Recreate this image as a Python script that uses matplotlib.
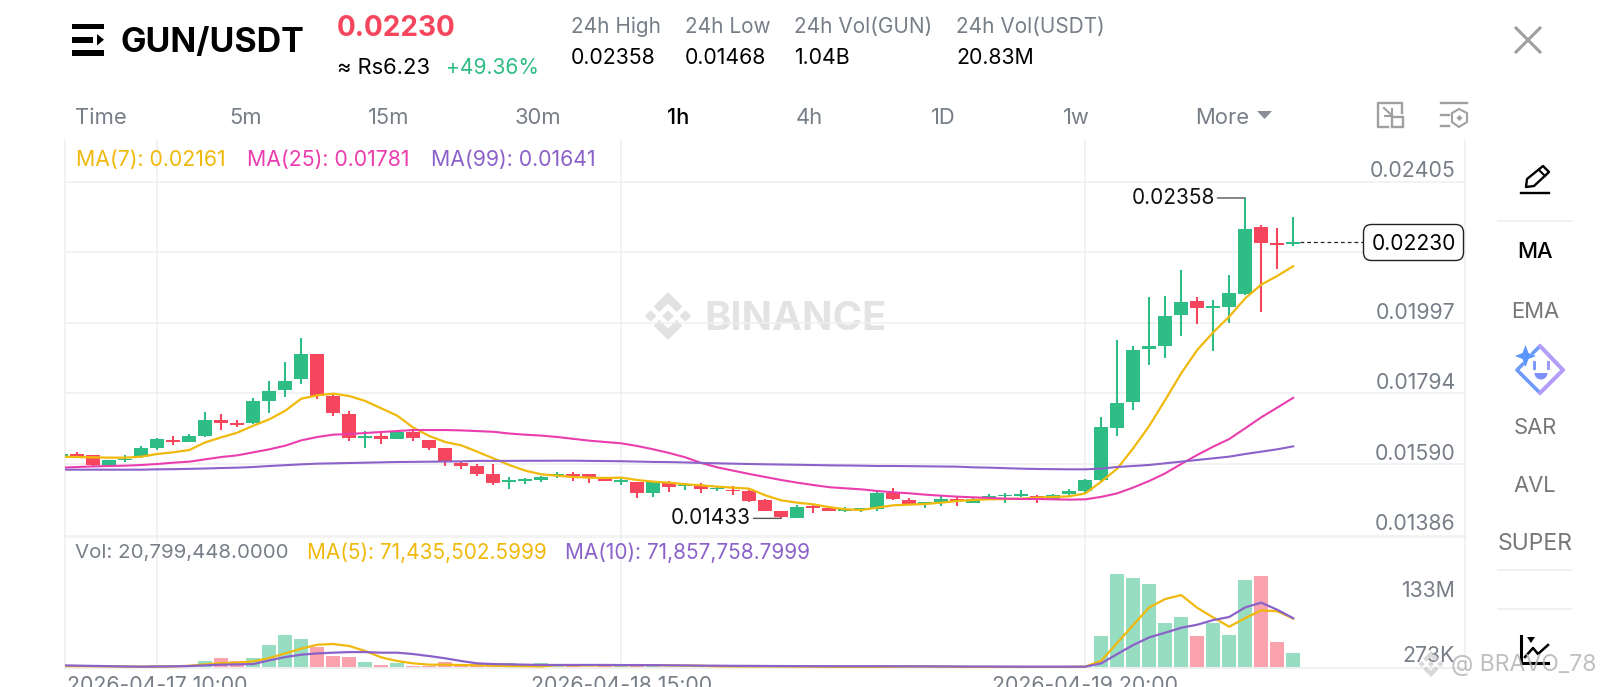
import numpy as np
import matplotlib
matplotlib.use("Agg")
import matplotlib.pyplot as plt
from matplotlib.patches import Polygon, FancyBboxPatch, Rectangle, Wedge
from matplotlib.transforms import blended_transform_factory

UNIT = 1e-5
opens = [1611.2,1619.8,1616.9,1587.1,1600.6,1609.2,1635.2,1658.3,1654.5,1669.9,1717.0,1708.3,1707.4,1771.9,1803.6,1834.4,1908.5,1785.3,1735.3,1665.0,1670.8,1662.2,1682.4,1659.3,1635.2,1592.9,1585.2,1560.2,1537.1,1540.0,1544.8,1555.4,1561.1,1561.1,1546.7,1539.0,1537.1,1505.3,1538.0,1525.5,1530.3,1517.8,1515.0,1513.0,1486.1,1455.3,1435.1,1468.8,1462.0,1455.3,1457.2,1461.1,1506.3,1486.1,1474.6,1476.5,1490.0,1478.4,1490.9,1497.7,1497.7,1496.7,1490.0,1503.4,1511.1,1543.8,1693.0,1768.0,1922.0,1931.6,2020.2,2059.6,2040.4,2043.3,2081.8,2274.2,2227.1,2225.1]
highs = [1618.9,1624.6,1616.9,1602.5,1615.0,1641.0,1664.1,1670.8,1676.6,1740.1,1735.3,1717.0,1779.6,1828.6,1884.4,1952.8,1908.5,1788.2,1743.0,1684.3,1680.4,1685.2,1688.1,1659.3,1635.2,1595.8,1591.0,1590.0,1551.5,1549.6,1556.3,1566.0,1566.0,1561.1,1552.5,1550.6,1537.1,1541.9,1540.0,1534.2,1534.2,1526.5,1526.5,1515.0,1489.0,1455.3,1471.6,1471.6,1466.8,1464.9,1464.0,1511.1,1519.8,1490.9,1480.3,1497.7,1495.7,1494.8,1502.5,1505.4,1514.0,1500.5,1503.4,1516.9,1545.8,1725.7,1947.0,1929.7,2071.2,2075.0,2149.1,2073.1,2062.5,2134.7,2358.0,2280.0,2270.4,2303.0]
lows = [1611.2,1612.1,1582.3,1586.1,1595.8,1608.3,1631.4,1645.8,1653.5,1667.0,1688.1,1696.8,1705.5,1737.2,1783.4,1821.9,1778.6,1727.6,1657.3,1636.2,1648.7,1661.2,1655.4,1630.4,1585.2,1576.5,1556.3,1529.4,1516.9,1531.3,1537.1,1549.6,1540.0,1536.1,1540.0,1530.3,1492.8,1495.7,1508.2,1515.9,1505.3,1511.1,1500.5,1481.3,1453.4,1433.0,1434.0,1449.5,1454.3,1452.4,1452.4,1455.3,1486.1,1472.6,1464.0,1468.8,1469.8,1478.4,1489.0,1478.4,1494.8,1476.5,1489.0,1493.8,1502.5,1541.0,1669.9,1746.9,1876.8,1895.1,1958.6,1994.2,1916.2,1996.1,2077.0,2027.9,2153.9,2219.0]
closes = [1618.9,1614.0,1588.1,1600.6,1605.4,1635.2,1661.2,1653.5,1669.9,1716.0,1709.3,1702.6,1770.9,1800.7,1830.6,1906.6,1786.3,1736.3,1664.1,1670.8,1663.1,1681.4,1664.1,1635.2,1598.6,1584.2,1562.1,1536.1,1542.9,1545.7,1552.5,1561.1,1556.3,1551.5,1541.0,1542.9,1505.3,1538.0,1524.6,1530.3,1516.9,1521.7,1511.1,1484.2,1455.3,1436.0,1465.9,1463.0,1455.3,1460.1,1464.0,1506.3,1488.0,1474.6,1479.4,1490.0,1483.2,1490.0,1496.7,1501.5,1502.5,1490.0,1500.5,1513.0,1543.9,1695.9,1765.2,1919.1,1929.7,2018.2,2058.7,2041.3,2046.2,2083.7,2269.4,2227.1,2221.3,2230.0]
ma7 = [1611.2,1610.2,1609.2,1608.3,1608.3,1611.2,1618.9,1623.7,1630.4,1652.5,1667.0,1680.4,1700.6,1718.9,1743.9,1778.6,1788.2,1793.0,1786.3,1771.9,1750.7,1729.5,1694.9,1670.8,1653.5,1643.9,1625.6,1606.4,1587.1,1570.8,1560.2,1556.3,1552.5,1550.6,1549.6,1550.6,1543.8,1539.0,1536.1,1531.3,1528.4,1524.6,1521.7,1518.8,1499.6,1485.1,1478.4,1473.6,1465.5,1459.2,1457.2,1464.0,1470.7,1472.6,1474.6,1478.4,1483.2,1486.1,1488.0,1489.0,1490.0,1492.8,1494.8,1496.7,1505.0,1539.0,1576.6,1635.3,1699.7,1774.8,1851.8,1919.1,1970.1,2015.4,2068.3,2107.7,2132.8,2161.0]
ma25 = [1579.4,1581.3,1583.2,1584.2,1585.2,1587.1,1590.0,1593.8,1596.7,1603.5,1610.2,1615.0,1623.7,1632.3,1642.9,1658.3,1667.9,1674.7,1676.6,1679.5,1682.4,1685.2,1688.1,1688.1,1688.1,1687.0,1685.0,1683.0,1678.0,1674.6,1672.0,1668.0,1662.6,1657.4,1653.5,1649.7,1642.0,1632.4,1621.8,1609.3,1593.0,1580.4,1570.8,1561.2,1552.5,1543.8,1536.1,1529.4,1523.0,1519.8,1516.9,1512.1,1508.2,1505.4,1501.5,1498.6,1495.7,1493.8,1491.9,1490.0,1489.0,1489.0,1488.0,1487.1,1488.0,1495.0,1505.3,1522.0,1541.0,1563.0,1590.0,1616.0,1640.1,1662.0,1693.0,1724.7,1752.7,1781.0]
ma99 = [1573.6,1573.6,1573.6,1573.6,1573.6,1573.6,1574.6,1575.0,1576.0,1577.0,1578.4,1579.4,1581.3,1584.2,1586.6,1589.0,1591.0,1591.9,1592.9,1593.8,1594.8,1595.8,1596.2,1596.7,1597.2,1597.7,1599.0,1599.0,1599.0,1599.3,1599.3,1599.5,1599.5,1599.0,1598.5,1598.0,1597.0,1596.0,1595.5,1594.5,1593.0,1592.0,1591.0,1590.0,1589.2,1588.5,1587.8,1587.0,1586.2,1585.7,1585.2,1584.3,1584.3,1583.8,1583.3,1582.8,1582.3,1580.4,1579.5,1578.0,1576.6,1575.6,1575.1,1574.6,1574.6,1576.6,1581.4,1584.2,1587.2,1592.0,1596.8,1601.6,1606.4,1611.2,1618.9,1625.6,1632.4,1641.0]
volumes_m = [2,2,2.5,1.5,2,2,3.9,2,2.9,9.7,14,9.7,13.6,33.4,47,42.1,30,16.5,15,8.2,3.9,6.8,2.5,2,8.7,2,4.8,4.8,6.3,1.5,6.8,3.9,1.9,1,3.9,3.4,4.4,3.4,1.5,1,1,0.8,1.9,1,1.9,1.5,1,0.8,0.8,0.8,1,3,1.9,1.2,0.8,1,1,0.8,0.8,0.8,0.8,1,0.8,1,3,45.5,136,129.7,121,64.9,73.6,45.5,65.3,47.4,126.8,133.6,36.8,20.8]
vol_ma5 = [2.4,2.3,2.1,1.9,1.7,1.5,1.6,1.8,2.9,4.8,6.8,7.3,9.2,14,20.8,27.6,33.4,34.4,31.5,24.2,15,9.7,6.3,4.4,4.4,3.9,3.4,2.9,2.4,2.2,1.9,3.6,3.4,3.2,3.6,3.6,3.8,3.8,3.2,3,2.8,2,1.8,1.8,1.8,1.8,1.6,1.5,1.3,1.0,0.9,1.2,1.5,1.7,1.7,1.5,1.2,1.0,1.0,1.0,1.0,1.0,1.0,1.0,1.5,10,36,62,87.6,99.7,105.5,87,73,59.5,72,83.3,82,71.4]
vol_ma10 = [3.4,3.0,2.6,2.2,1.8,1.5,1.7,2.0,2.4,3.4,4.4,4.8,5.3,10.6,15.5,18.9,20.8,21.8,22.7,22.7,21.8,21.8,19.8,16.9,13.6,9.7,6.3,5.3,4.8,4.4,3.9,4,4,4,4,3.8,3.8,3.7,3.5,3.3,3,2.9,2.7,2.6,2.5,2.4,2.3,2.2,2.2,2.2,2.2,2.2,2.1,2,2,1.9,1.8,1.7,1.7,1.6,1.5,1.5,1.5,1.5,1.5,6.3,19.8,32.9,44,50.8,58,62.4,69.2,73.6,87.6,94.4,84.2,71.9]
price_ticks = [0.02405,0.02202,0.01997,0.01794,0.01590]
price_tick_labels = ["0.02405","","0.01997","0.01794","0.01590"]
date_positions = [6,35,64]
date_labels = ["2026-04-17 10:00","2026-04-18 15:00","2026-04-19 20:00"]
periods = ["Time","5m","15m","30m","1h","4h","1D","1w"]
period_x = [75,246,389,538,678,809,943,1076]

GREEN,RED = "#2EBD85","#F6465D"
GOLD,PINK,PURPLE = "#F0B90B","#EA3DAE","#8B62C9"
GREY,LINE = "#777E87","#EFEFEF"
FONT = "Inter"
plt.rcParams['font.family'] = [FONT,"Lato","DejaVu Sans"]

W,H = 1600,687
fig = plt.figure(figsize=(16,6.87),dpi=100,facecolor="white")
def axpx(x0,y0,x1,y1,z):
    a = fig.add_axes([x0/W,1-y1/H,(x1-x0)/W,(y1-y0)/H],zorder=z)
    a.patch.set_alpha(0)
    return a

bg = axpx(0,0,W,H,0); bg.set_xlim(0,W); bg.set_ylim(H,0); bg.axis("off")
ui = axpx(0,0,W,H,3); ui.set_xlim(0,W); ui.set_ylim(H,0); ui.axis("off")
ax = axpx(64.7,140,1465,535.7,1)
axv = axpx(64.7,535.7,1465,667.7,1)

x = np.arange(len(closes))
XL = (0.2125,87.74)
o,h,l,c = [np.array(v)*UNIT for v in (opens,highs,lows,closes)]
up = c>=o
col = np.where(up,GREEN,RED)

# price pane
ax.set_xlim(*XL); ax.set_ylim(1383*UNIT,2525.4*UNIT)
ax.set_yticks(price_ticks); ax.set_xticks(date_positions)
ax.set_xticklabels([]); ax.set_yticklabels([])
ax.tick_params(length=0)
ax.grid(True,color=LINE,lw=1.1); ax.set_axisbelow(True)
for s in ("top",): ax.spines[s].set_visible(False)
for s in ("left","right"): ax.spines[s].set(color=LINE,lw=1.1)
ax.spines["bottom"].set(color="#F3F3F3",lw=2.2)
ax.vlines(x,l,h,colors=col,lw=1.5,zorder=2)
ax.bar(x,np.maximum(np.abs(c-o),1.5*UNIT),bottom=np.minimum(o,c),width=0.875,color=col,lw=0,zorder=3)
for y,cl,lw in ((ma7,GOLD,1.6),(ma25,PINK,1.5),(ma99,PURPLE,1.5)):
    ax.plot(x,np.array(y)*UNIT,color=cl,lw=lw,zorder=4,solid_joinstyle="round")
tr = blended_transform_factory(ax.transAxes,ax.transData)
for t,lab in list(zip(price_ticks,price_tick_labels))+[(1386*UNIT,"0.01386")]:
    if lab:
        ax.annotate(lab,xy=(1,t),xycoords=tr,xytext=(-6.8,0.2),textcoords="offset points",ha="right",va="bottom",fontsize=15.3,color=GREY,zorder=6)

imax,imin = int(np.argmax(h)),int(np.argmin(l))
ax.annotate(f"{h[imax]:.5f}",xy=(imax,h[imax]),xytext=(-22,0),textcoords="offset points",ha="right",va="center",fontsize=15,color="#111",
            arrowprops=dict(arrowstyle="-",color="#555",lw=1,shrinkA=0,shrinkB=0),zorder=6)
ax.annotate(f"{l[imin]:.5f}",xy=(imin,l[imin]),xytext=(-22,0),textcoords="offset points",ha="right",va="center",fontsize=15,color="#111",
            arrowprops=dict(arrowstyle="-",color="#555",lw=1,shrinkA=0,shrinkB=0),zorder=6)
ax.plot([x[-1]+0.4,XL[1]-6.4],[c[-1],c[-1]],color="#222",lw=0.9,ls=(0,(3,2.4)),zorder=5)

# volume pane
vol = np.array(volumes_m)*1e6
axv.set_xlim(*XL); axv.set_ylim(0,191.7e6)
axv.set_xticks(date_positions); axv.set_xticklabels([]); axv.set_yticks([]); axv.tick_params(length=0)
axv.grid(True,axis="x",color=LINE,lw=1.1); axv.set_axisbelow(True)
for s in ("top",): axv.spines[s].set_visible(False)
for s in ("left","right"): axv.spines[s].set(color=LINE,lw=1.1)
axv.spines["bottom"].set(color="#EFEFEF",lw=1.4)
axv.bar(x,vol,width=0.875,color=col,alpha=0.5,lw=0,zorder=2)
axv.plot(x,np.array(vol_ma5)*1e6,color=GOLD,lw=1.6,zorder=3)
axv.plot(x,np.array(vol_ma10)*1e6,color=PURPLE,lw=1.6,zorder=4)

# text helpers (pixel sizes)
def T(xp,yp,s,px=20,color="black",ha="left",weight="normal",a=None,z=5):
    return (a or ui).text(xp,yp,s,fontsize=px*0.72,color=color,ha=ha,va="center",weight=weight,zorder=z)

for pos,lab in zip(date_positions,date_labels):
    T(61.3+16*pos,686,lab,21.3,GREY,"center")
T(75.5,160,"MA(7): 0.02161",21.3,GOLD)
T(247,160,"MA(25): 0.01781",21.3,PINK)
T(431,160,"MA(99): 0.01641",21.3,PURPLE)
T(75,553,"Vol: 20,799,448.0000",20.4,GREY)
T(307,553,"MA(5): 71,435,502.5999",20.8,GOLD)
T(565,553,"MA(10): 71,857,758.7999",20.8,PURPLE)
T(1455,591,"133M",21.3,GREY,"right")
T(1455,656.5,"273K",21.3,GREY,"right")

# header
for y0,y1,x1 in ((24,28.5,104),(36.7,42.7,93),(50,55.7,104)):
    ui.add_patch(Rectangle((72,y0),x1-72,y1-y0,color="black",lw=0))
ui.add_patch(Polygon([[97,34],[104,39.7],[97,45.5]],color="black",lw=0))
T(121,43,"GUN/USDT",34,"black",weight="bold")
T(337,28,"0.02230",28,RED,weight="bold")
T(337,68,"≈ Rs6.23",22,"black")
T(446,68,"+49.36%",21,GREEN)
for xp,a_,b_ in ((571,"24h High","0.02358"),(685,"24h Low","0.01468"),(794.5,"24h Vol(GUN)","1.04B"),(956,"24h Vol(USDT)","20.83M")):
    T(xp,27,a_,20.8,GREY); T(xp,58,b_,21.3,"black")
for p,xp in zip(periods,period_x):
    T(xp,118,p,22,"black" if p=="1h" else GREY,"left" if p=="Time" else "center",weight="medium" if p=="1h" else "normal")
T(1195,118,"More",22,GREY)
ui.add_patch(Polygon([[1257,111],[1272,111],[1264.5,119]],color="#8A8F96",lw=0))

# close and tool icons
ico="#A0A0A0"
ui.plot([1516,1540],[28,52],color=ico,lw=2.2); ui.plot([1516,1540],[52,28],color=ico,lw=2.2)
ui.plot([1388,1378,1378,1402,1402],[127,127,103,103,113],color=ico,lw=1.7)
ui.add_patch(Rectangle((1392,117),11,10,fill=False,ec=ico,lw=1.7))
ui.plot([1384,1392],[108,115.5],color=ico,lw=1.5)
ui.plot([1392,1392,1385],[108.5,115.5,115.5],color=ico,lw=1.5)
ui.plot([1441,1467],[103,103],color=ico,lw=1.7)
ui.plot([1441,1449],[114.5,114.5],color=ico,lw=1.7); ui.plot([1441,1449],[126,126],color=ico,lw=1.7)
ui.add_patch(Polygon([[1452,113],[1459,109],[1467,113],[1467,122],[1459,127],[1452,122]],fill=False,ec=ico,lw=1.5))
ui.add_patch(Polygon([[1459.5,115],[1462.5,118],[1459.5,121],[1456.5,118]],color=ico,lw=0))

# current price tag
ui.add_patch(FancyBboxPatch((1363.5,224.5),100,36,boxstyle="round,pad=0,rounding_size=8",fc="white",ec="#222",lw=1,zorder=4))
T(1414,244.5,"0.02230",21,"black","center")

# right panel
for yl in (220.7,570,609.3):
    ui.plot([1498,1572],[yl,yl],color="#EDEDED",lw=1.1)
T(1535,252.5,"MA",22,"black","center",weight="medium")
for yt,s,sz in ((312,"EMA",22),(428,"SAR",22),(486.5,"AVL",22),(544.5,"SUPER",23)):
    T(1535,yt,s,sz,"#777777","center")
# pencil
ui.add_patch(Polygon([[1526,187],[1527,179],[1543,166],[1549,172],[1534,186]],fill=False,ec="black",lw=1.7,joinstyle="round"))
ui.plot([1539,1545],[170,176],color="black",lw=1.5)
ui.plot([1521,1544],[192.5,192.5],color="black",lw=1.7); ui.plot([1546,1549],[192.5,192.5],color="black",lw=1.7)
# assistant badge
ui.plot([1533,1540,1563,1540,1517,1523],[353,346,370,393,370,364],color="#6E9BFA",lw=2.6,solid_joinstyle="round")
ui.plot([1540,1563,1540],[346,370,393],color="#B79CF8",lw=2.6,solid_joinstyle="round")
ui.add_patch(Polygon([[1525.5,345],[1528.5,353],[1536,356],[1528.5,359],[1525.5,367],[1522.5,359],[1515,356],[1522.5,353]],color="#5B97FB",lw=0))
ui.plot([1534,1534],[362,368],color="#7E9CF7",lw=2.2); ui.plot([1548,1548],[362,368],color="#9C9CF7",lw=2.2)
ui.add_patch(Wedge((1541,373),6.5,0,180,color="#7E90F7",lw=0,zorder=5))
# indicator icon
ui.plot([1521,1521],[636,660],color="black",lw=2.2); ui.plot([1521,1548],[663,663],color="black",lw=2.2)
ui.plot([1525,1533,1538,1548],[657,648,654,645],color="black",lw=1.8)
ui.add_patch(Polygon([[1527,637],[1535,637],[1531,643]],color="black",lw=0))

# watermarks
def logo(a,cx,cy,r,color,alpha=1,z=1):
    d = lambda px,py,q: [[px,py-q],[px+q,py],[px,py+q],[px-q,py]]
    for (px,py,q) in ((cx,cy,r*0.24),(cx-r*0.72,cy,r*0.24),(cx+r*0.72,cy,r*0.24)):
        a.add_patch(Polygon(d(px,py,q),color=color,alpha=alpha,lw=0,zorder=z))
    for s in (1,-1):
        a.add_patch(Polygon([[cx,cy-s*r],[cx+r*0.6,cy-s*r*0.4],[cx+r*0.36,cy-s*r*0.16],[cx,cy-s*r*0.52],
                             [cx-r*0.36,cy-s*r*0.16],[cx-r*0.6,cy-s*r*0.4]],color=color,alpha=alpha,lw=0,zorder=z))
logo(bg,668,316,24,"#E2E2E2")
T(704,319,"BINANCE",40,"#E3E3E3",weight="bold",a=bg,z=1)
logo(ui,1431,664,13,"#C9C9C9",0.7,z=7)
T(1451,665,"@ BRAVO_78",23,"#B5B5B5",z=8).set_alpha(0.85)

fig.savefig("out.png",dpi=100)
